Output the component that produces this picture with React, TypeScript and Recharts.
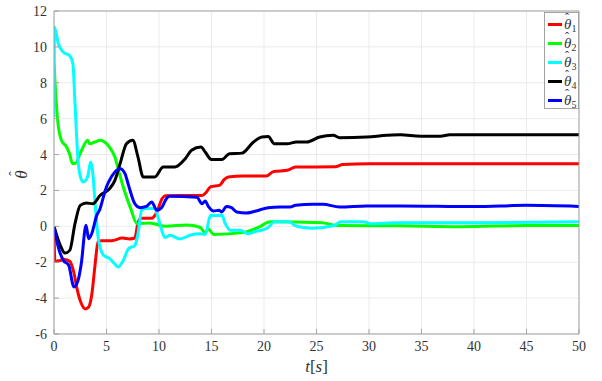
import { CartesianGrid, Line, LineChart, XAxis, YAxis } from "recharts";

const SERIF = "Liberation Serif";
const AXIS_GREY = "#a3a3a3";
const TEXT_GREY = "#333333";

const X_TICKS = [0, 5, 10, 15, 20, 25, 30, 35, 40, 45, 50];
const Y_TICKS = [-6, -4, -2, 0, 2, 4, 6, 8, 10, 12];

// [t, value] samples of each estimated parameter
const THETA_1: [number, number][] = [
  [0, 0], [0.08, -1.95], [0.6, -1.9], [1.0, -1.85], [1.5, -1.95], [1.9, -2.6],
  [2.2, -3.5], [2.6, -4.3], [3.0, -4.6], [3.3, -4.5], [3.6, -3.8], [3.9, -2.2],
  [4.2, -0.85], [4.5, -0.8], [5.5, -0.8], [6.5, -0.65], [7.2, -0.7], [7.7, -0.65],
  [8.0, 0.2], [8.3, 0.45], [9.3, 0.45], [9.8, 0.8], [10.3, 1.55], [10.6, 1.7],
  [12, 1.72], [14.1, 1.72], [14.5, 1.9], [14.9, 2.2], [15.8, 2.3], [16.2, 2.6],
  [16.6, 2.75], [18, 2.8], [20.2, 2.8], [20.9, 3.05], [22.2, 3.12], [23, 3.3],
  [26.8, 3.32], [27.5, 3.44], [30, 3.49], [50, 3.49],
];

const THETA_2: [number, number][] = [
  [0, 9.1], [0.15, 7.5], [0.35, 5.9], [0.7, 4.8], [1.2, 4.42], [1.5, 4.0],
  [1.75, 3.5], [2.0, 3.5], [2.6, 4.2], [3.2, 4.8], [3.4, 4.6], [3.9, 4.7],
  [4.4, 4.8], [5.3, 4.4], [5.8, 3.86], [6.2, 3.0], [6.7, 2.0], [7.3, 1.0],
  [7.9, 0.15], [9.1, 0.18], [10.7, 0.0], [12.6, 0.08], [13.9, -0.05], [14.4, -0.35],
  [14.7, -0.15], [15.2, -0.45], [18, -0.35], [19.5, -0.05], [20.6, 0.25],
  [25.5, 0.2], [27, 0.05], [33, 0.03], [38.7, -0.02], [45, 0.05], [50, 0.05],
];

const THETA_3: [number, number][] = [
  [0, 6.1], [0.05, 11.1], [0.4, 10.2], [0.9, 9.7], [1.5, 9.5], [1.8, 9.05],
  [2.0, 6.85], [2.3, 3.6], [2.6, 2.6], [2.8, 2.47], [3.2, 2.75], [3.5, 3.58],
  [3.7, 2.95], [3.9, 1.4], [4.2, -0.6], [4.7, -1.6], [5.3, -1.8], [5.8, -2.1],
  [6.1, -2.27], [6.6, -1.9], [7.1, -1.24], [7.7, -1.07], [8.0, -0.4], [8.35, 0.9],
  [8.7, 1.0], [9.6, 1.0], [9.9, 0.5], [10.6, -0.62], [11.05, -0.5], [12, -0.7],
  [12.95, -0.5], [13.9, -0.42], [14.4, -0.45], [14.9, 0.6], [16, 0.62], [16.3, 0.16],
  [16.8, -0.22], [17.7, -0.22], [18.5, -0.41], [19.1, -0.3], [19.9, -0.2],
  [20.4, -0.06], [21, 0.25], [22.4, 0.25], [22.9, 0.06], [23.3, -0.02], [24.6, -0.1],
  [26.7, 0.05], [27.3, 0.25], [29.5, 0.25], [30.1, 0.15], [32.7, 0.2], [40, 0.2],
  [50, 0.25],
];

const THETA_4: [number, number][] = [
  [0, 0], [0.6, -1.06], [1.05, -1.49], [1.5, -1.34], [2.0, 0.15], [2.5, 1.17],
  [3.1, 1.3], [3.7, 1.26], [4.4, 1.73], [5.3, 2.1], [5.8, 2.56], [6.3, 3.5],
  [6.9, 4.6], [7.5, 4.8], [8.0, 3.86], [8.5, 2.75], [9.6, 2.75], [10.4, 3.3],
  [11.5, 3.3], [12.5, 3.77], [13.1, 4.24], [14.0, 4.42], [14.4, 4.14], [15.0, 3.72],
  [16.0, 3.72], [16.7, 4.05], [17.9, 4.08], [19.0, 4.7], [19.8, 4.98], [20.4, 5.0],
  [21.0, 4.6], [22.2, 4.6], [23.1, 4.7], [24.1, 4.7], [25.3, 4.98], [26.6, 5.07],
  [27.2, 4.94], [29.8, 4.98], [31.7, 5.07], [33, 5.1], [34.9, 5.02], [36.8, 5.02],
  [37.7, 5.1], [50, 5.1],
];

const THETA_5: [number, number][] = [
  [0, 0], [0.4, -1.15], [0.9, -1.9], [1.4, -2.17], [1.9, -3.38], [2.3, -3.0],
  [2.6, -2.07], [3.05, 0.06], [3.3, -0.69], [3.6, -0.4], [4.07, 0.61], [4.4, 1.0],
  [4.7, 1.63], [5.0, 2.2], [5.2, 2.47], [5.8, 3.03], [6.3, 3.21], [6.76, 2.94],
  [7.1, 2.28], [7.7, 1.26], [8.2, 1.04], [8.8, 1.11], [9.3, 1.35], [9.8, 0.9],
  [10.25, 1.04], [10.7, 1.54], [11.0, 1.67], [13.6, 1.62], [14.1, 1.26], [14.4, 1.41],
  [14.7, 1.11], [15.2, 0.85], [15.7, 0.9], [16.0, 0.8], [16.4, 1.11], [16.9, 1.04],
  [17.4, 0.8], [18.3, 0.74], [19.5, 0.9], [20.4, 1.04], [21.5, 1.08], [22.5, 1.08],
  [23, 1.17], [24.7, 1.23], [25.6, 1.23], [27.2, 1.08], [29.8, 1.14], [33, 1.14],
  [40, 1.1], [45, 1.17], [50, 1.11],
];

const SERIES = [
  { id: "1", color: "#ff0000", points: THETA_1 },
  { id: "2", color: "#00ff00", points: THETA_2 },
  { id: "3", color: "#00ffff", points: THETA_3 },
  { id: "4", color: "#000000", points: THETA_4 },
  { id: "5", color: "#0000ff", points: THETA_5 },
];

const toRows = (pts: [number, number][]) => pts.map(([t, v]) => ({ t, v }));

const noLabel = () => <g />;

// theta with a hat drawn as its own glyph so it sits centred over the letter
function ThetaHat({ sub }: { sub?: string }) {
  return (
    <span style={{ fontFamily: SERIF, fontSize: 15, color: TEXT_GREY, lineHeight: "14px" }}>
      <span style={{ position: "relative", fontStyle: "italic", display: "inline-block" }}>
        θ
        <span
          style={{
            position: "absolute",
            left: 1,
            top: -6,
            fontStyle: "normal",
            fontSize: 12,
          }}
        >
          ˆ
        </span>
      </span>
      {sub && (
        <span style={{ fontSize: 10, position: "relative", top: 3 }}>{sub}</span>
      )}
    </span>
  );
}

export default function App() {
  return (
    <div style={{ position: "relative", width: 602, height: 381, background: "#fff" }}>
      <style>{"body{margin:0}"}</style>
      <LineChart width={602} height={381} margin={{ top: 0, right: 0, bottom: 0, left: 0 }}>
        <CartesianGrid stroke="#ebebeb" strokeWidth={1} />
        <XAxis
          type="number"
          dataKey="t"
          domain={[0, 50]}
          ticks={X_TICKS}
          allowDataOverflow
          height={47}
          stroke={AXIS_GREY}
          tickSize={-5}
          tickMargin={12}
          tick={{ fill: TEXT_GREY, fontSize: 14, fontFamily: SERIF }}
          label={{
            content: ({ viewBox }: any) => (
              <text
                x={viewBox.x + viewBox.width / 2}
                y={viewBox.y + 38}
                textAnchor="middle"
                fill={TEXT_GREY}
                fontFamily={SERIF}
                fontSize={17}
              >
                <tspan fontStyle="italic">t</tspan>[<tspan fontStyle="italic">s</tspan>]
              </text>
            ),
          }}
        />
        <XAxis
          xAxisId="top"
          orientation="top"
          type="number"
          dataKey="t"
          domain={[0, 50]}
          ticks={X_TICKS}
          height={11}
          stroke={AXIS_GREY}
          tickSize={-5}
          tick={noLabel}
        />
        <YAxis
          type="number"
          domain={[-6, 12]}
          ticks={Y_TICKS}
          allowDataOverflow
          width={54}
          stroke={AXIS_GREY}
          tickSize={-5}
          tickMargin={12}
          tick={{ fill: TEXT_GREY, fontSize: 14, fontFamily: SERIF }}
          label={{
            content: ({ viewBox }: any) => {
              const cx = 27;
              const cy = viewBox.y + viewBox.height / 2 + 2;
              return (
                <g transform={`rotate(-90 ${cx} ${cy})`} fill={TEXT_GREY} fontFamily={SERIF}>
                  <text x={cx} y={cy} textAnchor="middle" fontStyle="italic" fontSize={17}>
                    θ
                  </text>
                  <text x={cx + 1} y={cy - 8} textAnchor="middle" fontSize={14}>
                    ˆ
                  </text>
                </g>
              );
            },
          }}
        />
        <YAxis
          yAxisId="right"
          orientation="right"
          type="number"
          domain={[-6, 12]}
          ticks={Y_TICKS}
          width={23}
          stroke={AXIS_GREY}
          tickSize={-5}
          tick={noLabel}
        />
        {SERIES.map((s) => (
          <Line
            key={s.id}
            data={toRows(s.points)}
            dataKey="v"
            type="monotone"
            stroke={s.color}
            strokeWidth={3}
            dot={false}
            isAnimationActive={false}
          />
        ))}
      </LineChart>

      {/* legend box, top right corner of the axes */}
      <div
        style={{
          position: "absolute",
          left: 544,
          top: 12,
          width: 35,
          height: 97,
          border: `1px solid ${AXIS_GREY}`,
          background: "#fff",
          boxSizing: "border-box",
        }}
      >
        {SERIES.map((s, i) => (
          <div
            key={s.id}
            style={{
              position: "absolute",
              left: 3,
              top: 2 + i * 19,
              height: 19,
              display: "flex",
              alignItems: "center",
            }}
          >
            <div style={{ width: 14, height: 3, background: s.color, marginRight: 2 }} />
            <ThetaHat sub={s.id} />
          </div>
        ))}
      </div>
    </div>
  );
}
